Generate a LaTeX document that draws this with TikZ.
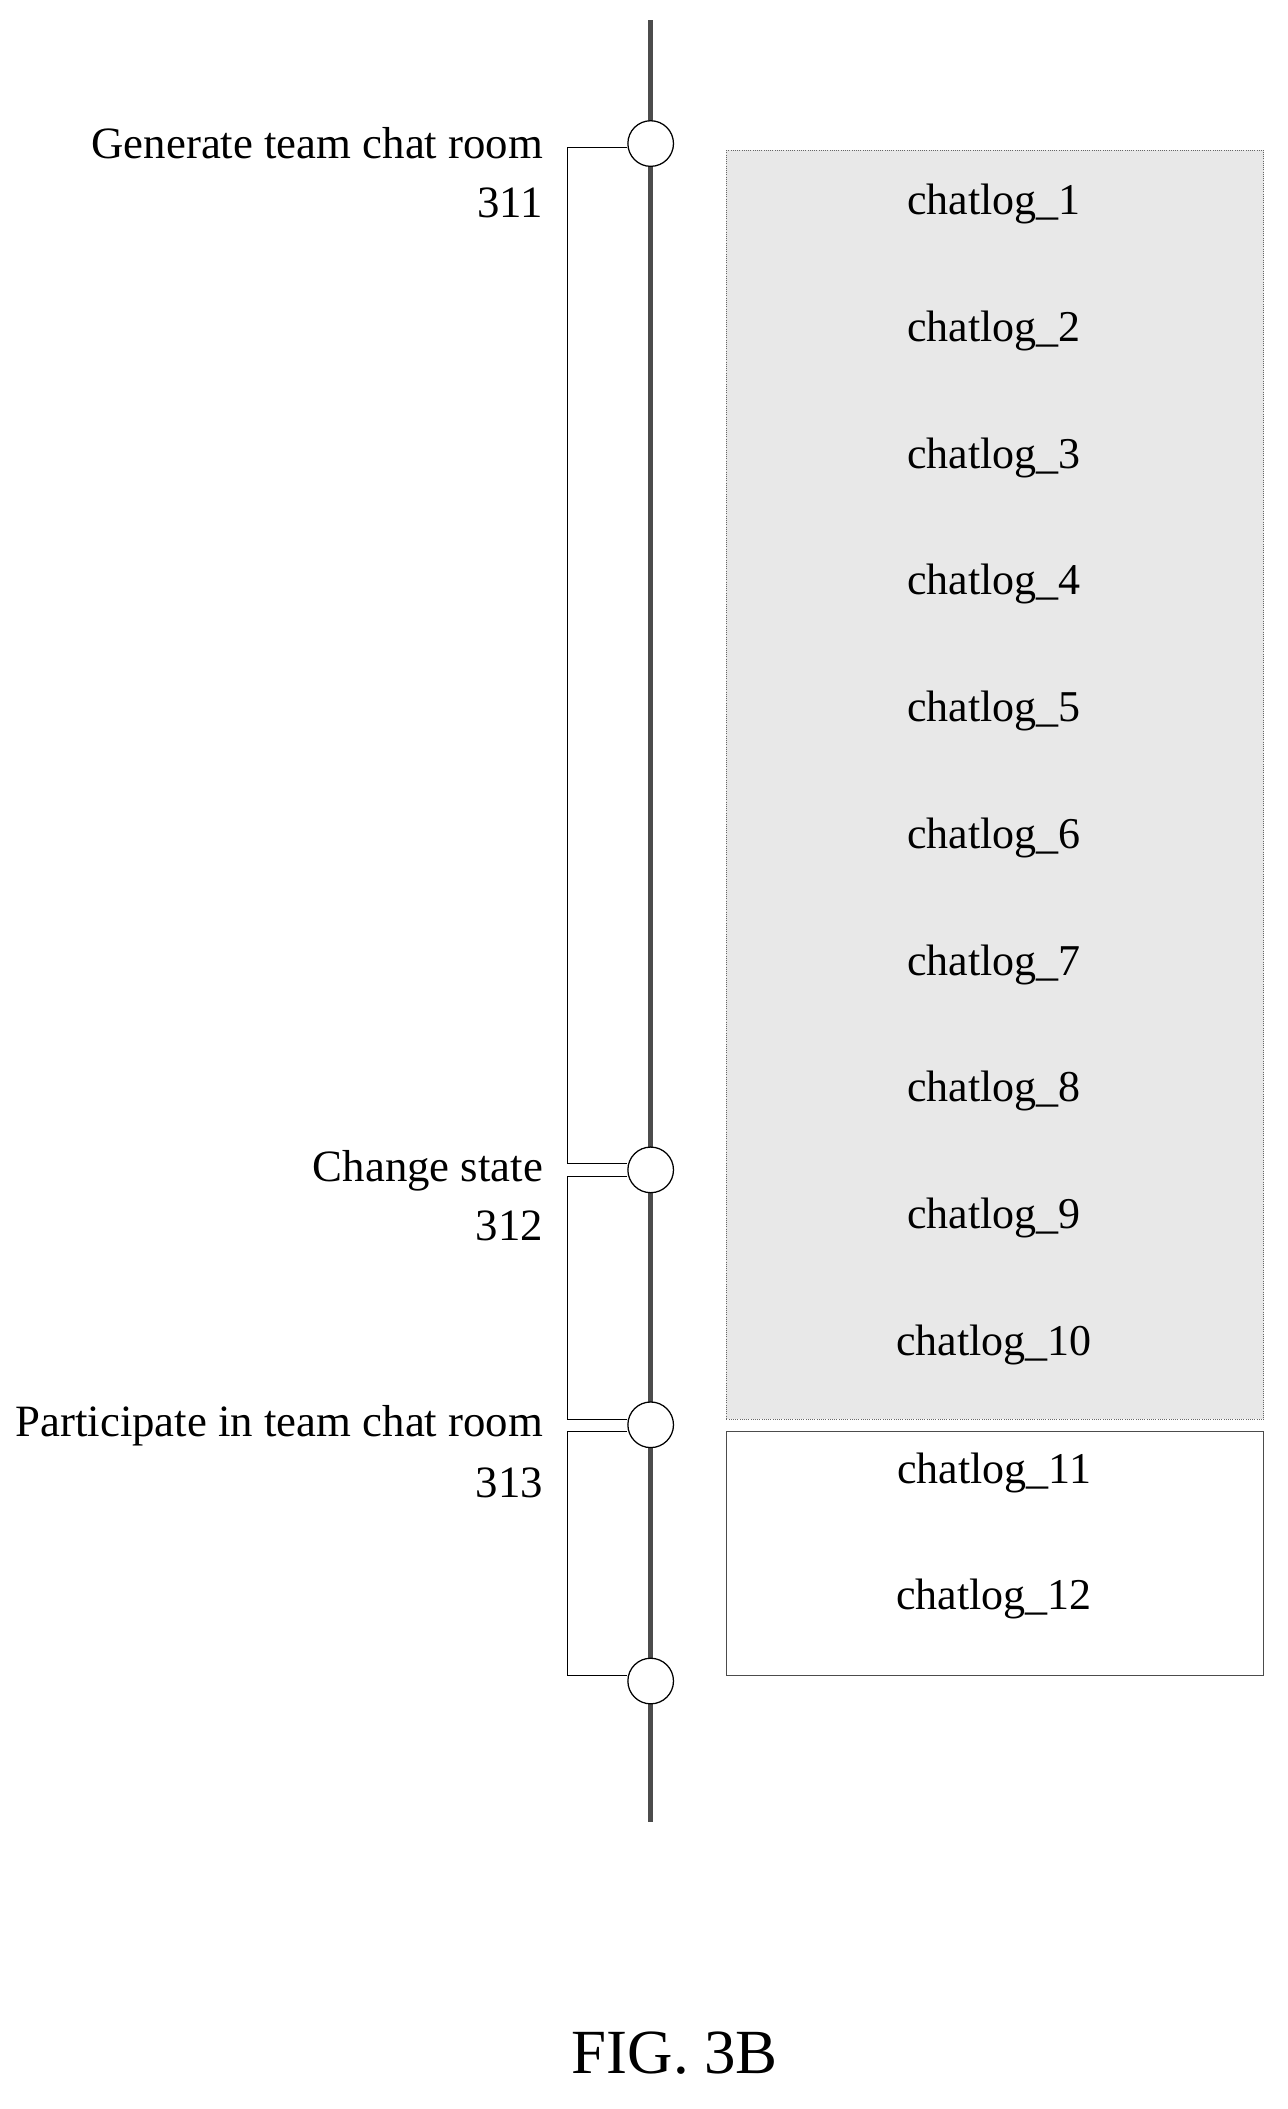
\documentclass[tikz,border=0pt]{standalone}
\usepackage{fontspec}
\setmainfont{Liberation Serif}
\usetikzlibrary{positioning}
\begin{document}
\begin{tikzpicture}[x=0.03cm, y=-0.03cm,
    lbl/.style={anchor=east, font=\fontsize{28.5}{30}\selectfont, inner sep=0pt},
    log/.style={font=\fontsize{28}{30}\selectfont, inner sep=0pt},
    evt/.style={circle, draw, thick, fill=white, minimum size=1.02cm, inner sep=0pt}]
    \useasboundingbox (0,0) rectangle (960,1572);

    % chat log boxes
    \draw[black!60, densely dotted, fill=black!9] (541,112) rectangle (942,1058);
    \draw[black!70, thin] (541,1067) rectangle (942,1249);

    % timeline
    \coordinate (top) at (485,15);
    \coordinate (bot) at (485,1358);
    \draw[line width=3pt, black!70] (top)--(bot);

    \node[evt] (e1) at (485,107){};
    \node[evt] (e2) at (485,872){};
    \node[evt] (e3) at (485,1062){};
    \node[evt] (e4) at (485,1253){};

    % brackets
    \draw[thin] (e1.west |- 0,110) -- (423,110) -- (423,867) -- (e2.west |- 0,867);
    \draw[thin] (e2.west |- 0,877) -- (423,877) -- (423,1058) -- (e3.west |- 0,1058);
    \draw[thin] (e3.west |- 0,1067) -- (423,1067) -- (423,1249) -- (e4.west |- 0,1249);

    % labels
    \node[lbl] (l1) at (405,107){Generate team chat room};
    \node[lbl] (n1) at (405,151){311};
    \node[lbl] (l2) at (405,873){Change state};
    \node[lbl] (n2) at (405,914){312};
    \node[lbl] (l3) at (405,1063){Participate in team chat room};
    \node[lbl] (n3) at (405,1105){313};

    \foreach \i in {1,...,10}
    {
        \node[log] (c\i) at (741,152+94.5*\i-94.5){chatlog\_\i};
    }
    \node[log] (c11) at (741,1098){chatlog\_11};
    \node[log] (c12) at (741,1192){chatlog\_12};

    \node[font=\fontsize{40}{42}\selectfont] (fig) at (503,1530){FIG. 3B};
\end{tikzpicture}
\end{document}
